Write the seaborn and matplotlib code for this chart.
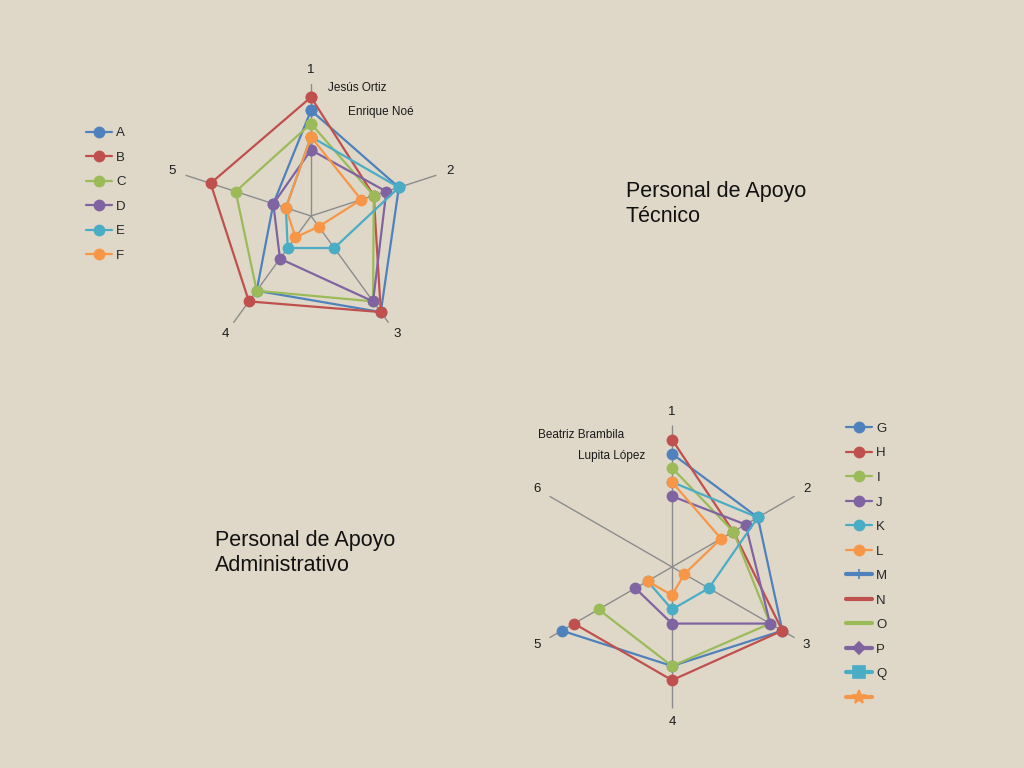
import numpy as np
import pandas as pd
import matplotlib
matplotlib.use('Agg')
import matplotlib.pyplot as plt
import seaborn as sns
from matplotlib.lines import Line2D

# --- data ---
tech_spokes = ['1', '2', '3', '4', '5']
tech_names = ['A', 'B', 'C', 'D', 'E', 'F']
tech_a = [8, 7, 9, 7, 3]
tech_b = [9, 5, 9, 8, 8]
tech_c = [7, 5, 8, 7, 6]
tech_d = [5, 6, 8, 4, 3]
tech_e = [6, 7, 3, 3, 2]
tech_f = [6, 4, 1, 2, 2]
tech_labels = ['Jesús Ortiz', 'Enrique Noé']

adm_spokes = ['1', '2', '3', '4', '5', '6']
adm_names = ['G', 'H', 'I', 'J', 'K', 'L']
adm_g = [8, 7, 9, 7, 9, np.nan]
adm_h = [9, 5, 9, 8, 8, np.nan]
adm_i = [7, 5, 8, 7, 6, np.nan]
adm_j = [5, 6, 8, 4, 3, np.nan]
adm_k = [6, 7, 3, 3, 2, np.nan]
adm_l = [6, 4, 1, 2, 2, np.nan]
adm_empty_names = ['M', 'N', 'O', 'P', 'Q', '']   # series without values, legend only
adm_labels = ['Beatriz Brambila', 'Lupita López']

titles = ['Personal de Apoyo\nTécnico', 'Personal de Apoyo\nAdministrativo']

palette = ['#4F81BD', '#C0504D', '#9BBB59', '#8064A2', '#4BACC6', '#F79646']
bg = '#DFD8C9'

sns.set_theme(style='white')
plt.rcParams['font.family'] = ['Liberation Sans Narrow', 'Liberation Sans', 'DejaVu Sans']


def to_long(names, series, n_axes, close):
    rows = []
    theta = np.linspace(0, 2 * np.pi, n_axes, endpoint=False)
    for name, vals in zip(names, series):
        idx = list(range(n_axes)) + ([0] if close else [])
        for k, i in enumerate(idx):
            th = theta[i] + (2 * np.pi if (close and k == n_axes) else 0)
            rows.append({'serie': name, 'theta': th, 'value': vals[i]})
    return pd.DataFrame(rows).dropna()


def radar(ax, df, spokes, names):
    ax.set_theta_offset(np.pi / 2)
    ax.set_theta_direction(-1)
    ax.set_facecolor('none')
    sns.lineplot(data=df, x='theta', y='value', hue='serie', hue_order=names,
                 palette=palette, marker='o', markersize=8.5, markeredgewidth=0,
                 linewidth=1.6, sort=False, estimator=None, legend=False, ax=ax)
    ax.set_ylim(0, 10)
    ax.set_xticks(np.linspace(0, 2 * np.pi, len(spokes), endpoint=False), spokes)
    ax.set_yticks([])
    ax.grid(True, axis='x', color='#8C8C8C', linewidth=1.0)
    ax.grid(False, axis='y')
    ax.spines['polar'].set_visible(False)
    ax.tick_params(axis='x', pad=-3, labelsize=9.5, colors='#1A1A1A')
    ax.set_xlabel('')
    ax.set_ylabel('')


fig = plt.figure(figsize=(10.24, 7.68), dpi=100)
fig.patch.set_facecolor(bg)

ax1 = fig.add_axes([0.1748, 0.5469, 0.2578, 0.34375], projection='polar')
df1 = to_long(tech_names, [tech_a, tech_b, tech_c, tech_d, tech_e, tech_f], 5, True)
radar(ax1, df1, tech_spokes, tech_names)

ax2 = fig.add_axes([0.5181, 0.0775, 0.2764, 0.3685], projection='polar')
df2 = to_long(adm_names, [adm_g, adm_h, adm_i, adm_j, adm_k, adm_l], 6, False)
radar(ax2, df2, adm_spokes, adm_names)

# legends
h1 = [Line2D([], [], color=c, lw=1.6, marker='o', markersize=8.5, markeredgewidth=0) for c in palette]
fig.legend(h1, tech_names, loc='upper left', bbox_to_anchor=(0.0723, 0.850), frameon=False,
           fontsize=9.5, handlelength=2.0, handletextpad=0.3, labelspacing=0.93)

extra_markers = ['|', '_', None, 'D', 's', '*']
extra_sizes = [7, 4, 0, 6, 8, 10]
h2 = [Line2D([], [], color=c, lw=1.6, marker='o', markersize=8.5, markeredgewidth=0) for c in palette]
h2 += [Line2D([], [], color=c, lw=3, marker=m, markersize=s, markeredgewidth=1.2)
       for c, m, s in zip(palette, extra_markers, extra_sizes)]
fig.legend(h2, adm_names + adm_empty_names, loc='upper left', bbox_to_anchor=(0.8145, 0.4650),
           frameon=False, fontsize=9.5, handlelength=2.0, handletextpad=0.3, labelspacing=0.93)

# data labels placed as text boxes
fig.text(328 / 1024, 1 - 88 / 768, tech_labels[0], fontsize=8.5, va='center', color='#1A1A1A')
fig.text(348 / 1024, 1 - 112 / 768, tech_labels[1], fontsize=8.5, va='center', color='#1A1A1A')
fig.text(538 / 1024, 1 - 435 / 768, adm_labels[0], fontsize=8.5, va='center', color='#1A1A1A')
fig.text(578 / 1024, 1 - 456 / 768, adm_labels[1], fontsize=8.5, va='center', color='#1A1A1A')

fig.text(626 / 1024, 1 - 204 / 768, titles[0], fontsize=15.5, va='center', linespacing=1.3, color='#111111')
fig.text(215 / 1024, 1 - 553 / 768, titles[1], fontsize=15.5, va='center', linespacing=1.3, color='#111111')

fig.savefig('out.png', dpi=100, facecolor=bg)
